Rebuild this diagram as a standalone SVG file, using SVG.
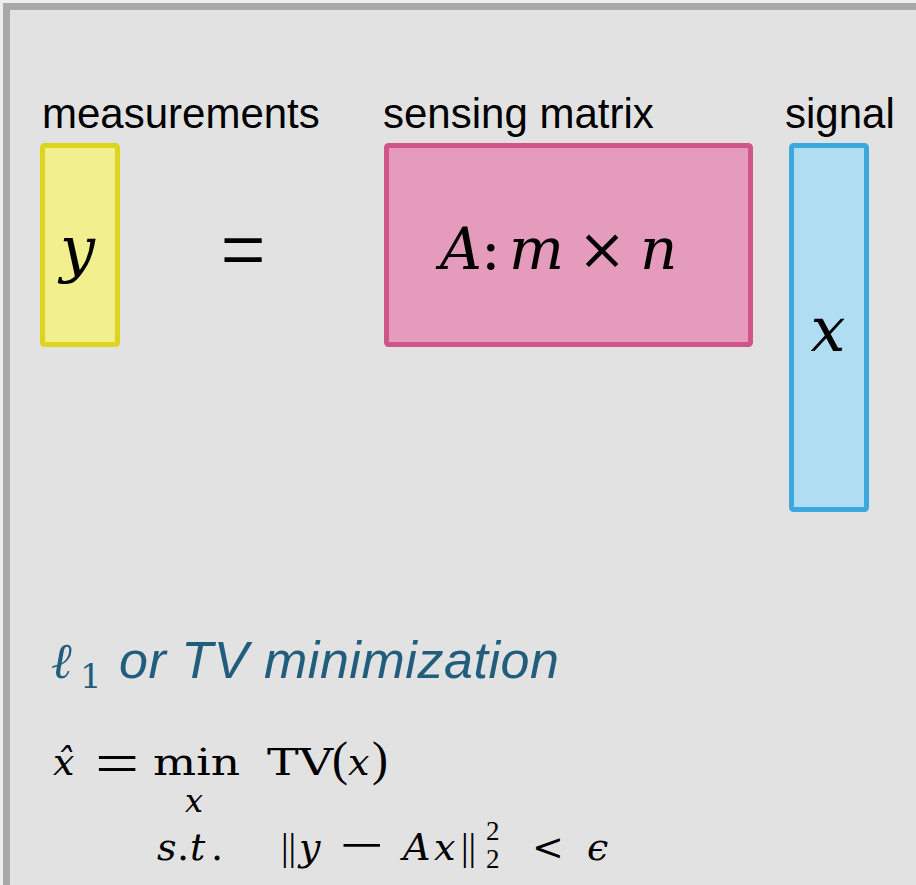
<svg xmlns="http://www.w3.org/2000/svg" width="916" height="885" viewBox="0 0 916 885">
  <defs>
    <style>
      .lbl { font-family: "Liberation Sans", Arial, sans-serif; font-size: 42px; fill: #000; }
      .m { font-family: "DejaVu Serif", serif; fill: #000; }
      .mi { font-family: "DejaVu Serif", serif; font-style: italic; fill: #000; }
      .ls { font-family: "Liberation Serif", "DejaVu Serif", serif; fill: #000; }
      .ttl { fill: #215d7c; }
      .box { stroke-width: 5; }
    </style>
  </defs>
  <rect x="0" y="0" width="916" height="885" fill="#ededed"/>
  <rect x="6.5" y="6.5" width="1000" height="1000" fill="#e2e2e2" stroke="#a8a8a8" stroke-width="7"/>

  <g id="measurements">
    <text class="lbl" x="42" y="128">measurements</text>
    <rect class="box" x="42.5" y="145.5" width="75" height="199" rx="2" fill="#f2ef8e" stroke="#ddd41e"/>
    <text class="mi" x="60" y="270" font-size="62">y</text>
  </g>

  <g id="equals">
    <text class="ls" transform="translate(243,281) scale(1.25,1.45)" x="0" y="0" font-size="64" text-anchor="middle">=</text>
  </g>

  <g id="sensing-matrix">
    <text class="lbl" x="383" y="128">sensing matrix</text>
    <rect class="box" x="386.5" y="145.5" width="364" height="199" rx="2" fill="#e49bbc" stroke="#d0558a"/>
    <text y="269" font-size="58">
      <tspan class="mi" x="440">A</tspan><tspan class="m" x="481">:</tspan><tspan class="mi" x="509">m</tspan>
    </text>
    <text class="m" x="602" y="269" font-size="58" text-anchor="middle">×</text>
    <text class="mi" x="640" y="269" font-size="58">n</text>
  </g>

  <g id="signal">
    <text class="lbl" x="785" y="128">signal</text>
    <rect class="box" x="791.5" y="145.5" width="75" height="364" rx="2" fill="#b0ddf1" stroke="#3ba9de"/>
    <text class="mi" x="828" y="351" font-size="62" text-anchor="middle">x</text>
  </g>

  <g id="connectors"></g>

  <g id="formula">
    <text class="mi ttl" x="51" y="678" font-size="50">ℓ</text>
    <text class="m ttl" x="80" y="688" font-size="34">1</text>
    <text class="ttl" x="119" y="678" font-family="Liberation Sans, Arial, sans-serif" font-style="italic" font-size="52" textLength="440">or TV minimization</text>

    <text class="mi" x="53" y="775" font-size="38">x&#x302;</text>
    <text class="ls" transform="translate(117,784) scale(1.4,1.1)" x="0" y="0" font-size="56" text-anchor="middle">=</text>
    <text class="m" x="153" y="775" font-size="38" textLength="87" lengthAdjust="spacingAndGlyphs">min</text>
    <text class="mi" x="185" y="812" font-size="32">x</text>
    <text class="m" x="267" y="775" font-size="38" textLength="66" lengthAdjust="spacingAndGlyphs">TV</text>
    <text class="ls" x="332" y="775" font-size="48">(</text>
    <text class="mi" x="348" y="775" font-size="38">x</text>
    <text class="ls" x="372" y="775" font-size="48">)</text>

    <text y="860" font-size="38">
      <tspan class="mi" x="157">s</tspan><tspan class="m" x="177">.</tspan><tspan class="mi" x="190">t</tspan><tspan class="m" x="211">.</tspan>
    </text>
    <text class="ls" x="281" y="860" font-size="38">||</text>
    <text class="mi" x="299" y="860" font-size="38">y</text>
    <text class="ls" transform="translate(361.5,864) scale(1.4,1)" x="0" y="0" font-size="56" text-anchor="middle">−</text>
    <text y="860" font-size="38">
      <tspan class="mi" x="403">A</tspan><tspan class="mi" x="434">x</tspan>
    </text>
    <text class="ls" x="461" y="860" font-size="38">||</text>
    <text class="ls" x="486" y="840" font-size="27">2</text>
    <text class="ls" x="486" y="868" font-size="27">2</text>
    <text class="m" x="532" y="860" font-size="38">&lt;</text>
    <text class="mi" x="587" y="860" font-size="38">ϵ</text>
  </g>
</svg>
